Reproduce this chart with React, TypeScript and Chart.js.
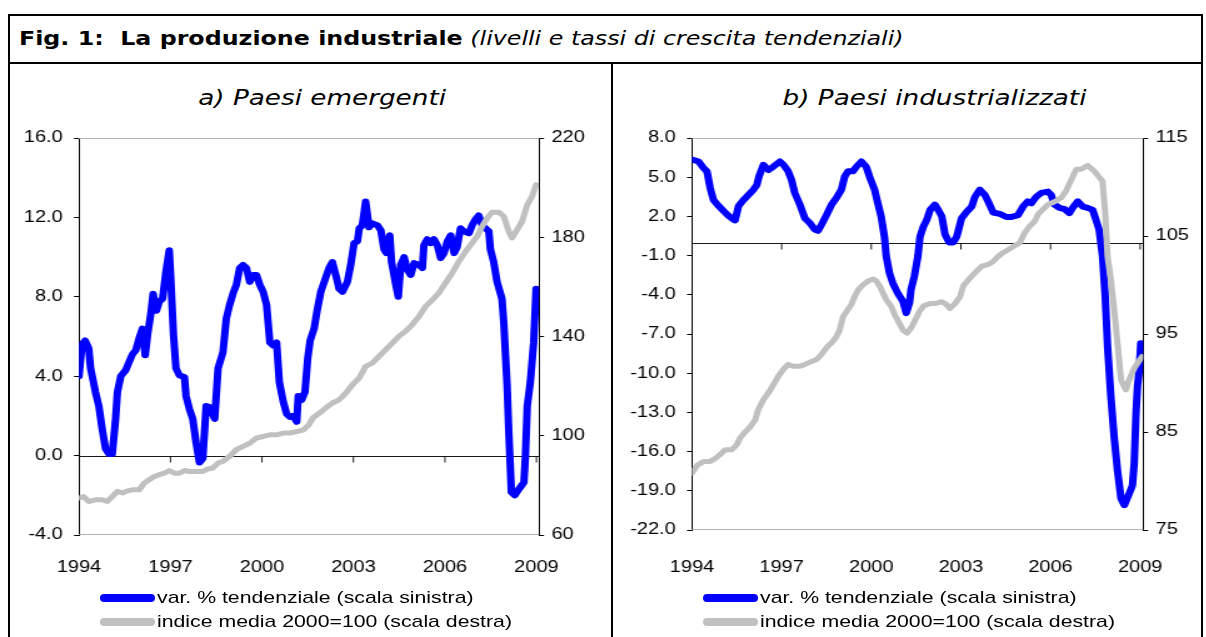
import React, { useEffect, useRef } from "react";
import { Chart, registerables } from "chart.js";

Chart.register(...registerables);

// ---------- DATA ----------
// a) Paesi emergenti – var. % tendenziale (left scale)
const emVarYears = [
  1994.0, 1994.1, 1994.2, 1994.32, 1994.38, 1994.54, 1994.65, 1994.76, 1994.87, 1994.98,
  1995.09, 1995.2, 1995.26, 1995.37, 1995.53, 1995.64, 1995.75, 1995.86, 1995.97, 1996.08,
  1996.17, 1996.25, 1996.36, 1996.43, 1996.54, 1996.63, 1996.74, 1996.85, 1996.96, 1997.01,
  1997.1, 1997.18, 1997.29, 1997.46, 1997.51, 1997.62, 1997.73, 1997.84, 1997.95, 1998.06,
  1998.17, 1998.28, 1998.45, 1998.56, 1998.72, 1998.83, 1998.94, 1999.07, 1999.16, 1999.27,
  1999.38, 1999.49, 1999.6, 1999.71, 1999.82, 1999.93, 2000.04, 2000.15, 2000.26, 2000.37,
  2000.48, 2000.57, 2000.7, 2000.81, 2000.92, 2001.03, 2001.14, 2001.19, 2001.3, 2001.41,
  2001.5, 2001.58, 2001.71, 2001.82, 2001.93, 2002.04, 2002.2, 2002.31, 2002.42, 2002.53,
  2002.64, 2002.8, 2002.91, 2003.02, 2003.13, 2003.19, 2003.29, 2003.4, 2003.46, 2003.51,
  2003.62, 2003.79, 2003.9, 2004.0, 2004.08, 2004.19, 2004.25, 2004.39, 2004.47, 2004.55,
  2004.66, 2004.77, 2004.88, 2004.99, 2005.15, 2005.26, 2005.31, 2005.42, 2005.53, 2005.64,
  2005.75, 2005.86, 2005.97, 2006.08, 2006.19, 2006.3, 2006.4, 2006.51, 2006.62, 2006.79,
  2006.89, 2007.0, 2007.11, 2007.22, 2007.33, 2007.44, 2007.49, 2007.6, 2007.71, 2007.87,
  2007.93, 2008.04, 2008.09, 2008.18, 2008.29, 2008.42, 2008.59, 2008.64, 2008.7, 2008.8,
  2008.91, 2008.99,
];
const emVarValues = [
  4.0, 5.6, 5.8, 5.4, 4.4, 3.2, 2.5, 1.35, 0.35, 0.08,
  0.08, 1.85, 3.2, 4.0, 4.3, 4.7, 5.1, 5.3, 5.9, 6.4,
  5.05, 6.1, 7.2, 8.15, 7.3, 7.75, 7.9, 9.25, 10.35, 8.9,
  6.05, 4.4, 4.05, 3.95, 3.0, 2.35, 1.85, 0.65, -0.35, -0.15,
  2.5, 2.45, 1.85, 4.4, 5.2, 6.9, 7.6, 8.25, 8.6, 9.45,
  9.6, 9.45, 8.75, 9.1, 9.1, 8.6, 8.25, 7.6, 5.7, 5.55,
  5.7, 3.7, 2.7, 2.1, 1.95, 2.0, 1.7, 3.0, 2.8, 3.2,
  4.9, 5.8, 6.4, 7.4, 8.25, 8.75, 9.45, 9.75, 9.1, 8.4,
  8.25, 8.75, 9.6, 10.7, 10.8, 11.45, 11.6, 12.8, 12.1, 11.5,
  11.7, 11.6, 11.35, 10.4, 10.2, 11.1, 9.75, 8.6, 8.0, 9.6,
  10.0, 9.35, 9.1, 9.7, 9.6, 9.45, 10.6, 10.9, 10.7, 10.9,
  10.6, 9.95, 10.2, 10.8, 11.1, 10.2, 10.5, 11.45, 11.3, 11.2,
  11.6, 11.9, 12.1, 11.6, 11.45, 11.3, 10.4, 9.75, 8.75, 7.9,
  6.7, 3.5, 1.35, -1.85, -2.0, -1.7, -1.35, 0.0, 2.5, 3.7,
  5.7, 8.4,
];

// a) Paesi emergenti – indice media 2000=100 (right scale)
const emIdxYears = [
  1994.0, 1994.15, 1994.32, 1994.54, 1994.76, 1994.93, 1995.09, 1995.26, 1995.42, 1995.59,
  1995.75, 1995.97, 1996.14, 1996.3, 1996.47, 1996.63, 1996.8, 1996.96, 1997.13, 1997.29,
  1997.46, 1997.62, 1997.84, 1998.06, 1998.22, 1998.39, 1998.56, 1998.72, 1998.94, 1999.16,
  1999.38, 1999.6, 1999.82, 2000.04, 2000.26, 2000.48, 2000.7, 2000.92, 2001.14, 2001.36,
  2001.55, 2001.66, 2001.88, 2002.09, 2002.31, 2002.53, 2002.75, 2002.97, 2003.19, 2003.4,
  2003.62, 2003.84, 2004.06, 2004.28, 2004.49, 2004.71, 2004.93, 2005.15, 2005.37, 2005.59,
  2005.8, 2006.02, 2006.24, 2006.46, 2006.68, 2006.89, 2007.06, 2007.22, 2007.39, 2007.55,
  2007.77, 2007.93, 2008.09, 2008.2, 2008.37, 2008.53, 2008.7, 2008.86, 2008.99,
];
const emIdxValues = [
  74.9, 75.5, 73.5, 74.2, 74.2, 73.5, 75.5, 77.6, 76.9, 77.8,
  78.2, 78.2, 80.9, 82.3, 83.6, 84.3, 84.9, 86.0, 84.9, 84.9,
  86.0, 85.6, 85.6, 85.6, 86.6, 87.0, 89.0, 89.7, 91.7, 94.4,
  95.7, 97.0, 99.1, 99.7, 100.4, 100.4, 101.1, 101.1, 101.7, 102.4,
  104.6, 107.1, 109.1, 111.2, 113.2, 114.5, 117.2, 120.6, 123.3, 128.0,
  129.3, 132.0, 134.7, 137.4, 140.1, 142.1, 144.8, 148.1, 152.2, 154.8,
  157.5, 161.6, 165.6, 170.3, 174.3, 177.7, 180.4, 184.4, 187.8, 190.1,
  190.1, 188.4, 182.4, 179.7, 183.1, 186.4, 193.1, 196.5, 201.2,
];

// b) Paesi industrializzati – var. % tendenziale (left scale)
const indVarYears = [
  1994.0, 1994.22, 1994.39, 1994.5, 1994.61, 1994.72, 1994.89, 1995.06, 1995.22, 1995.39,
  1995.44, 1995.56, 1995.72, 1995.89, 1996.06, 1996.17, 1996.24, 1996.39, 1996.56, 1996.72,
  1996.94, 1997.06, 1997.22, 1997.33, 1997.44, 1997.61, 1997.78, 1997.94, 1998.11, 1998.22,
  1998.33, 1998.5, 1998.67, 1998.83, 1999.0, 1999.11, 1999.22, 1999.39, 1999.5, 1999.67,
  1999.83, 1999.94, 2000.11, 2000.22, 2000.33, 2000.44, 2000.5, 2000.61, 2000.72, 2000.89,
  2001.06, 2001.17, 2001.28, 2001.33, 2001.44, 2001.56, 2001.63, 2001.74, 2001.86, 2001.97,
  2002.13, 2002.24, 2002.36, 2002.47, 2002.61, 2002.74, 2002.86, 2003.02, 2003.19, 2003.36,
  2003.47, 2003.63, 2003.8, 2003.91, 2004.08, 2004.3, 2004.52, 2004.69, 2004.91, 2005.08,
  2005.24, 2005.36, 2005.52, 2005.69, 2005.91, 2006.02, 2006.13, 2006.3, 2006.47, 2006.63,
  2006.74, 2006.91, 2007.08, 2007.24, 2007.41, 2007.52, 2007.63, 2007.74, 2007.83, 2007.91,
  2008.02, 2008.13, 2008.24, 2008.36, 2008.47, 2008.58, 2008.74, 2008.8, 2008.86, 2008.91,
  2008.97, 2009.02,
];
const indVarValues = [
  6.35, 6.2, 5.7, 5.45, 4.15, 3.25, 2.8, 2.4, 2.05, 1.75,
  1.7, 2.8, 3.25, 3.65, 4.05, 4.4, 5.05, 5.95, 5.55, 5.8,
  6.2, 5.95, 5.45, 4.8, 3.8, 2.9, 1.85, 1.5, 1.0, 0.9,
  1.35, 2.1, 2.9, 3.4, 4.05, 5.05, 5.45, 5.45, 5.8, 6.2,
  5.8, 5.05, 4.05, 3.0, 2.0, 0.45, -1.05, -2.35, -3.1, -3.9,
  -4.5, -5.4, -4.6, -3.6, -2.6, -1.05, 0.45, 1.2, 1.75, 2.5,
  2.9, 2.5, 2.0, 0.6, 0.0, 0.0, 0.45, 1.85, 2.35, 2.75,
  3.5, 4.05, 3.65, 3.15, 2.3, 2.2, 1.95, 1.95, 2.1, 2.75,
  3.15, 3.0, 3.5, 3.8, 3.9, 3.65, 2.9, 2.65, 2.55, 2.25,
  2.65, 3.15, 2.75, 2.65, 2.5, 1.75, 0.95, -1.05, -4.1, -8.0,
  -11.8, -14.9, -17.4, -19.6, -20.1, -19.5, -18.6, -16.9, -13.1, -11.0,
  -9.75, -7.7,
];

// b) Paesi industrializzati – indice media 2000=100 (right scale)
const indIdxYears = [
  1994.0, 1994.17, 1994.39, 1994.61, 1994.78, 1994.94, 1995.11, 1995.33, 1995.5, 1995.61,
  1995.78, 1995.94, 1996.11, 1996.22, 1996.39, 1996.56, 1996.72, 1996.89, 1997.06, 1997.22,
  1997.39, 1997.61, 1997.78, 1998.0, 1998.17, 1998.33, 1998.5, 1998.67, 1998.83, 1998.94,
  1999.06, 1999.22, 1999.33, 1999.44, 1999.56, 1999.72, 1999.89, 2000.06, 2000.17, 2000.28,
  2000.39, 2000.5, 2000.67, 2000.78, 2000.94, 2001.06, 2001.2, 2001.33, 2001.5, 2001.61,
  2001.76, 2001.97, 2002.13, 2002.36, 2002.52, 2002.63, 2002.8, 2002.97, 2003.08, 2003.3,
  2003.52, 2003.69, 2003.91, 2004.08, 2004.24, 2004.41, 2004.58, 2004.74, 2004.97, 2005.13,
  2005.3, 2005.47, 2005.58, 2005.74, 2005.91, 2006.13, 2006.36, 2006.52, 2006.69, 2006.86,
  2007.02, 2007.24, 2007.47, 2007.74, 2007.83, 2007.91, 2008.02, 2008.13, 2008.24, 2008.36,
  2008.52, 2008.63, 2008.8, 2008.91, 2009.06,
];
const indIdxValues = [
  80.8, 81.6, 82.0, 82.0, 82.3, 82.7, 83.2, 83.2, 83.7, 84.4,
  85.0, 85.5, 86.2, 87.3, 88.3, 89.0, 89.8, 90.7, 91.4, 91.9,
  91.7, 91.7, 91.9, 92.2, 92.4, 92.9, 93.6, 94.1, 94.7, 95.4,
  96.8, 97.5, 98.0, 98.8, 99.5, 100.0, 100.4, 100.6, 100.4, 99.9,
  99.2, 98.5, 97.8, 97.0, 96.1, 95.4, 95.1, 95.6, 96.6, 97.3,
  97.9, 98.1, 98.1, 98.3, 98.0, 97.6, 98.1, 98.8, 99.9, 100.7,
  101.4, 101.9, 102.1, 102.4, 102.9, 103.3, 103.6, 103.9, 104.3, 105.3,
  106.0, 106.5, 107.2, 107.7, 108.2, 108.5, 108.9, 109.6, 110.7, 111.8,
  111.8, 112.2, 111.6, 110.6, 107.3, 102.9, 100.5, 97.5, 94.1, 90.3,
  89.3, 90.3, 91.5, 92.0, 92.7,
];

// Axis ticks
const yearTicks = [1994, 1997, 2000, 2003, 2006, 2009];
const emLeftTicks = [-4, 0, 4, 8, 12, 16];
const emRightTicks = [60, 100, 140, 180, 220];
const indLeftTicks = [-22, -19, -16, -13, -10, -7, -4, -1, 2, 5, 8];
const indRightTicks = [75, 85, 95, 105, 115];

// Texts
const titleBold = "Fig. 1:\u00a0\u00a0La produzione industriale";
const titleItalic = "(livelli e tassi di crescita tendenziali)";
const panelTitles = ["a) Paesi emergenti", "b) Paesi industrializzati"];
const legendLabels = [
  "var. % tendenziale (scala sinistra)",
  "indice media 2000=100 (scala destra)",
];

const BLUE = "#0000FF";
const GRAY = "#C0C0C0";
const STRETCH = 1.25; // the reference is stretched horizontally
const AXIS_FONT = { family: "'Liberation Sans', Arial, sans-serif", size: 16 };

const toPoints = (xs: number[], ys: number[]) => xs.map((x, i) => ({ x, y: ys[i] }));

const framePlugin = {
  id: "frameAndZero",
  beforeDatasetsDraw(chart: any) {
    const { ctx, chartArea: a, scales } = chart;
    ctx.save();
    ctx.lineWidth = 1;
    ctx.strokeStyle = "#B4B4B4";
    ctx.beginPath();
    ctx.moveTo(a.left, a.top + 0.5);
    ctx.lineTo(a.right, a.top + 0.5);
    ctx.moveTo(a.left, a.bottom - 0.5);
    ctx.lineTo(a.right, a.bottom - 0.5);
    ctx.stroke();
    const y0 = Math.round(scales.y.getPixelForValue(0)) + 0.5;
    ctx.strokeStyle = "#000";
    ctx.lineWidth = 0.9;
    ctx.beginPath();
    ctx.moveTo(a.left, y0);
    ctx.lineTo(a.right, y0);
    yearTicks.slice(1).forEach((yr) => {
      const x = scales.x.getPixelForValue(yr);
      ctx.moveTo(x, y0);
      ctx.lineTo(x, y0 + 6);
    });
    ctx.stroke();
    ctx.restore();
  },
};

type PanelCfg = {
  varX: number[];
  varY: number[];
  idxX: number[];
  idxY: number[];
  leftTicks: number[];
  rightTicks: number[];
  xMax: number;
  width: number;
  height: number;
  leftW: number;
  rightW: number;
  xH: number;
  xPad: number;
};

function makeConfig(c: PanelCfg): any {
  const yAxisCommon = (ticksArr: number[], pad: number, fmt: (v: number) => string) => ({
    min: ticksArr[0],
    max: ticksArr[ticksArr.length - 1],
    afterBuildTicks: (s: any) => {
      s.ticks = ticksArr.map((v) => ({ value: v }));
    },
    ticks: {
      font: AXIS_FONT,
      color: "#000",
      padding: pad,
      autoSkip: false,
      callback: (v: any) => fmt(Number(v)),
    },
    grid: {
      display: true,
      drawOnChartArea: false,
      drawTicks: true,
      tickLength: 4,
      color: "#000",
      lineWidth: 1,
    },
    border: { display: true, color: "#000", width: 1 },
  });
  return {
    type: "line",
    data: {
      datasets: [
        {
          label: legendLabels[0],
          data: toPoints(c.varX, c.varY),
          yAxisID: "y",
          borderColor: BLUE,
          backgroundColor: BLUE,
          borderWidth: 6,
          pointRadius: 0,
          tension: 0,
          borderJoinStyle: "round",
          borderCapStyle: "round",
          fill: false,
          order: 2,
        },
        {
          label: legendLabels[1],
          data: toPoints(c.idxX, c.idxY),
          yAxisID: "y2",
          borderColor: GRAY,
          backgroundColor: GRAY,
          borderWidth: 5,
          pointRadius: 0,
          tension: 0,
          borderJoinStyle: "round",
          borderCapStyle: "round",
          fill: false,
          order: 1,
        },
      ],
    },
    options: {
      responsive: false,
      animation: false,
      events: [],
      layout: { padding: { top: 20, left: 0, right: 0, bottom: 0 } },
      plugins: {
        legend: { display: false },
        tooltip: { enabled: false },
        title: { display: false },
      },
      scales: {
        x: {
          type: "linear",
          min: 1994,
          max: c.xMax,
          afterBuildTicks: (s: any) => {
            s.ticks = yearTicks.map((v) => ({ value: v }));
          },
          afterFit: (s: any) => {
            s.height = c.xH;
          },
          ticks: {
            font: AXIS_FONT,
            color: "#000",
            padding: c.xPad,
            autoSkip: false,
            maxRotation: 0,
            callback: (v: any) => String(v),
          },
          grid: { display: false, drawTicks: false, tickLength: 0 },
          border: { display: false },
        },
        y: {
          position: "left",
          ...yAxisCommon(c.leftTicks, 9, (v) => v.toFixed(1)),
          afterFit: (s: any) => {
            s.width = c.leftW;
          },
        },
        y2: {
          position: "right",
          ...yAxisCommon(c.rightTicks, 6, (v) => String(v)),
          afterFit: (s: any) => {
            s.width = c.rightW;
          },
        },
      },
    },
    plugins: [framePlugin],
  };
}

function PanelChart({ cfg, left, top }: { cfg: PanelCfg; left: number; top: number }) {
  const ref = useRef<HTMLCanvasElement | null>(null);
  useEffect(() => {
    if (!ref.current) return;
    const chart = new Chart(ref.current, makeConfig(cfg));
    return () => chart.destroy();
  }, []);
  return (
    <div
      style={{
        position: "absolute",
        left,
        top,
        width: cfg.width,
        height: cfg.height,
        transform: `scaleX(${STRETCH})`,
        transformOrigin: "0 0",
      }}
    >
      <canvas
        ref={ref}
        width={cfg.width}
        height={cfg.height}
        style={{ display: "block", width: cfg.width, height: cfg.height }}
      />
    </div>
  );
}

const stretchText = (origin: string) => ({
  display: "inline-block",
  transform: `scaleX(${STRETCH})`,
  transformOrigin: origin,
});

function Legend({ left, top }: { left: number; top: number }) {
  const rows = [
    { color: BLUE, text: legendLabels[0] },
    { color: GRAY, text: legendLabels[1] },
  ];
  return (
    <div style={{ position: "absolute", left, top }}>
      {rows.map((r, i) => (
        <div
          key={i}
          style={{
            display: "flex",
            alignItems: "center",
            height: 24,
            fontFamily: "'Liberation Sans', Arial, sans-serif",
            fontSize: 17,
            lineHeight: "24px",
            color: "#000",
            whiteSpace: "nowrap",
          }}
        >
          <span
            style={{
              display: "inline-block",
              width: 55,
              height: 8,
              borderRadius: 4,
              background: r.color,
              marginRight: 2,
            }}
          />
          <span style={stretchText("left center")}>{r.text}</span>
        </div>
      ))}
    </div>
  );
}

// internal canvas sizes are divided by STRETCH
const leftCfg: PanelCfg = {
  varX: emVarYears,
  varY: emVarValues,
  idxX: emIdxYears,
  idxY: emIdxValues,
  leftTicks: emLeftTicks,
  rightTicks: emRightTicks,
  xMax: 2009.085,
  width: 480,
  height: 470,
  leftW: 55.2,
  rightW: 56.8,
  xH: 53,
  xPad: 23,
};

const rightCfg: PanelCfg = {
  varX: indVarYears,
  varY: indVarValues,
  idxX: indIdxYears,
  idxY: indIdxValues,
  leftTicks: indLeftTicks,
  rightTicks: indRightTicks,
  xMax: 2009.1,
  width: 467,
  height: 465,
  leftW: 62.4,
  rightW: 41.4,
  xH: 53,
  xPad: 28,
};

export default function App() {
  // positions below are relative to the root (page offset 8,8)
  return (
    <div style={{ position: "relative", width: 1195, height: 629, background: "#fff" }}>
      <style>{"html{overflow:hidden;background:#fff;} body{margin:8px 3px 0 8px;}"}</style>
      {/* outer frame */}
      <div
        style={{
          position: "absolute",
          left: 0,
          top: 6,
          width: 1195,
          height: 623,
          boxSizing: "border-box",
          borderTop: "2px solid #000",
          borderLeft: "2px solid #000",
          borderRight: "2px solid #000",
        }}
      />
      {/* title separator */}
      <div style={{ position: "absolute", left: 0, top: 54, width: 1195, height: 2, background: "#000" }} />
      {/* panel divider */}
      <div style={{ position: "absolute", left: 603, top: 56, width: 2, height: 573, background: "#000" }} />
      {/* title */}
      <div
        style={{
          position: "absolute",
          left: 11,
          top: 18,
          height: 24,
          lineHeight: "24px",
          fontFamily: "'DejaVu Sans', Verdana, sans-serif",
          fontSize: 19,
          color: "#000",
          whiteSpace: "nowrap",
        }}
      >
        <span style={stretchText("left center")}>
          <span style={{ fontWeight: "bold" }}>{titleBold}</span>{" "}
          <span style={{ fontStyle: "italic" }}>{titleItalic}</span>
        </span>
      </div>
      {/* panel titles */}
      {panelTitles.map((t, i) => (
        <div
          key={t}
          style={{
            position: "absolute",
            left: (i === 0 ? 322 : 935) - 8 - 200,
            width: 400,
            top: 76,
            height: 28,
            lineHeight: "28px",
            textAlign: "center",
            fontFamily: "'DejaVu Sans', Verdana, sans-serif",
            fontStyle: "italic",
            fontSize: 21,
            color: "#000",
            whiteSpace: "nowrap",
          }}
        >
          <span style={stretchText("center center")}>{t}</span>
        </div>
      ))}
      <PanelChart cfg={leftCfg} left={2} top={110} />
      <PanelChart cfg={rightCfg} left={606} top={110} />
      <Legend left={100 - 8} top={586 - 8} />
      <Legend left={703 - 8} top={586 - 8} />
    </div>
  );
}
